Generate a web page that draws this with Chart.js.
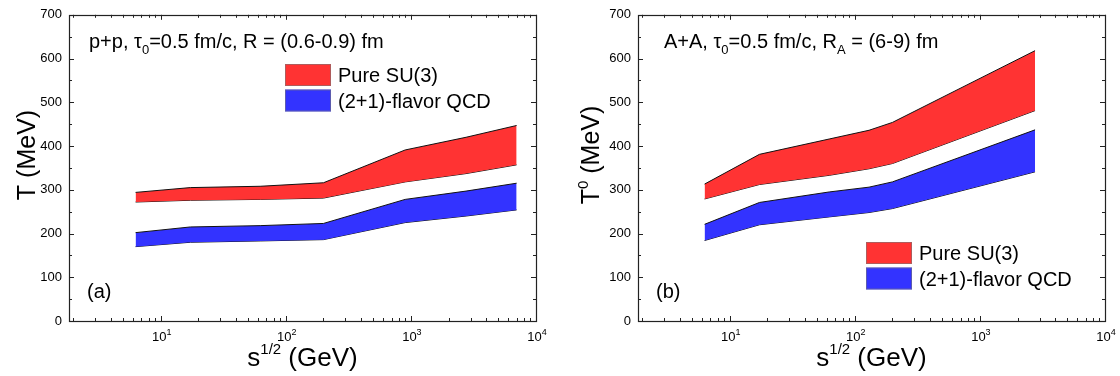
<!DOCTYPE html>
<html><head><meta charset="utf-8">
<script src="https://cdn.jsdelivr.net/npm/chart.js@4/dist/chart.umd.min.js"></script>
<style>
html,body{margin:0;padding:0;background:#fff;width:1120px;height:376px;overflow:hidden}
.p{position:absolute;top:0;width:560px;height:376px}
</style></head><body>
<div class="p" style="left:0"><canvas id="c1" width="560" height="376"></canvas></div>
<div class="p" style="left:560px"><canvas id="c2" width="560" height="376"></canvas></div>
<script>
// ---- data ----
const ppEnergy   = [6.3, 17.3, 62.4, 200, 900, 2760, 7000];
const ppSU3Upper = [294, 305, 308, 316, 391, 420, 447];
const ppSU3Lower = [272, 276, 278, 281, 318, 337, 357];
const ppQCDUpper = [202, 215, 218, 223, 278, 297, 315];
const ppQCDLower = [170, 180, 183, 186, 225, 240, 254];

const aaEnergy   = [6.3, 17.3, 62.4, 130, 200, 2760];
const aaSU3Upper = [313, 381, 416, 436, 454, 618];
const aaSU3Lower = [279, 312, 333, 348, 360, 481];
const aaQCDUpper = [221, 271, 295, 306, 318, 437];
const aaQCDLower = [184, 220, 238, 248, 257, 341];

const seriesLabels = ['Pure SU(3)', '(2+1)-flavor QCD'];
const seriesColors = ['#ff3333', '#3333ff'];
const yTickValues = [0, 100, 200, 300, 400, 500, 600, 700];
const xDecades = [1, 2, 3, 4];

const FF = '"Liberation Sans", Arial, Helvetica, sans-serif';

function pts(xs, ys){ return xs.map((x,i)=>({x:x, y:ys[i]})); }

function runs(ctx, parts, x, y, align){
  let total = 0;
  parts.forEach(p=>{ ctx.font = p[1]+'px '+FF; total += ctx.measureText(p[0]).width; });
  let cx = align==='center' ? x - total/2 : (align==='right' ? x - total : x);
  ctx.textAlign = 'left';
  ctx.textBaseline = 'alphabetic';
  parts.forEach(p=>{ ctx.font = p[1]+'px '+FF; ctx.fillText(p[0], cx, y + (p[2]||0)); cx += ctx.measureText(p[0]).width; });
}

function deco(opt){
  return {
    id: 'deco',
    afterDatasetsDraw(chart){
      const ctx = chart.ctx, a = chart.chartArea;
      const xs = chart.scales.x, ys = chart.scales.y;
      ctx.save();
      ctx.fillStyle = '#000';
      ctx.strokeStyle = '#222';
      ctx.lineWidth = 1;
      for (let v = 0; v <= 700; v += 50){
        const py = Math.round(ys.getPixelForValue(v)) + 0.5;
        const len = v % 100 === 0 ? 5 : 3;
        ctx.beginPath();
        ctx.moveTo(a.left, py); ctx.lineTo(a.left + len, py);
        ctx.moveTo(a.right, py); ctx.lineTo(a.right - len, py);
        ctx.stroke();
      }
      for (let e = 0; e <= 4; e++){
        for (let m = 1; m <= 9; m++){
          const v = m * Math.pow(10, e);
          if (v < xs.min || v > xs.max) continue;
          const px = Math.round(xs.getPixelForValue(v)) + 0.5;
          const len = m === 1 ? 5 : 3;
          ctx.beginPath();
          ctx.moveTo(px, a.bottom); ctx.lineTo(px, a.bottom - len);
          ctx.moveTo(px, a.top); ctx.lineTo(px, a.top + len);
          ctx.stroke();
        }
      }
      ctx.lineWidth = 1.2;
      ctx.strokeRect(Math.round(a.left)+0.5, Math.round(a.top)+0.5, Math.round(a.right-a.left), Math.round(a.bottom-a.top));
      xDecades.forEach(e=>{
        const px = xs.getPixelForValue(Math.pow(10, e));
        runs(ctx, [['10', 13], [String(e), 9, -6]], px + 1, 341, 'center');
      });
      runs(ctx, [['s', 26], ['1/2', 15, -12], [' (GeV)', 26]], (a.left + a.right)/2, 366, 'center');
      ctx.save();
      ctx.translate(opt.yTitleX, 155);
      ctx.rotate(-Math.PI/2);
      runs(ctx, opt.yTitle, 0, 0, 'center');
      ctx.restore();
      runs(ctx, opt.note, opt.noteX, 48, 'left');
      runs(ctx, [[opt.panel, 20]], opt.panelX, 298, 'left');
      seriesLabels.forEach((lab, i)=>{
        const by = opt.legY + i * 25.5;
        ctx.fillStyle = seriesColors[i];
        ctx.fillRect(opt.legX, by, 46, 22);
        ctx.strokeStyle = 'rgba(120,120,120,0.6)';
        ctx.lineWidth = 1;
        ctx.strokeRect(opt.legX + 0.5, by + 0.5, 45, 21);
        ctx.fillStyle = '#000';
        runs(ctx, [[lab, 20]], opt.legX + 53, by + 18, 'left');
      });
      ctx.restore();
    }
  };
}

function makeChart(id, energy, su3U, su3L, qcdU, qcdL, padRight, yWidth, opt){
  const ds = (data, fill, color) => ({
    data: data, fill: fill, backgroundColor: color, borderColor: '#111',
    borderWidth: 1, pointRadius: 0, tension: 0
  });
  return new Chart(document.getElementById(id), {
    type: 'line',
    data: {
      datasets: [
        ds(pts(energy, su3U), '+1', seriesColors[0]),
        ds(pts(energy, su3L), false, seriesColors[0]),
        ds(pts(energy, qcdU), '+1', seriesColors[1]),
        ds(pts(energy, qcdL), false, seriesColors[1])
      ]
    },
    options: {
      responsive: false, animation: false, devicePixelRatio: 1,
      layout: { padding: { left: 0, top: 12, right: padRight, bottom: 0 } },
      plugins: { legend: { display: false }, tooltip: { enabled: false } },
      scales: {
        x: {
          type: 'logarithmic', min: 1.85, max: 10000,
          grid: { display: false, drawTicks: false },
          border: { display: false },
          ticks: { display: false },
          afterFit: s => { s.height = 55; }
        },
        y: {
          type: 'linear', min: 0, max: 700,
          grid: { display: false, drawTicks: false },
          border: { display: false },
          afterBuildTicks: s => { s.ticks = yTickValues.map(v=>({value:v})); },
          ticks: { color: '#000', padding: 7, font: { family: FF, size: 13 } },
          afterFit: s => { s.width = yWidth; }
        }
      }
    },
    plugins: [deco(opt)]
  });
}

makeChart('c1', ppEnergy, ppSU3Upper, ppSU3Lower, ppQCDUpper, ppQCDLower, 24, 69, {
  yTitle: [['T (MeV)', 25]], yTitleX: 35,
  note: [['p+p, \u03C4', 20], ['0', 13, 6], ['=0.5 fm/c, R = (0.6-0.9) fm', 20]], noteX: 89,
  panel: '(a)', panelX: 87,
  legX: 285, legY: 64
});
makeChart('c2', aaEnergy, aaSU3Upper, aaSU3Lower, aaQCDUpper, aaQCDLower, 15, 78, {
  yTitle: [['T', 25], ['0', 15, -11], [' (MeV)', 25]], yTitleX: 39,
  note: [['A+A, \u03C4', 20], ['0', 13, 6], ['=0.5 fm/c, R', 20], ['A', 13, 6], [' = (6-9) fm', 20]], noteX: 104,
  panel: '(b)', panelX: 96,
  legX: 306, legY: 242
});
</script></body></html>
